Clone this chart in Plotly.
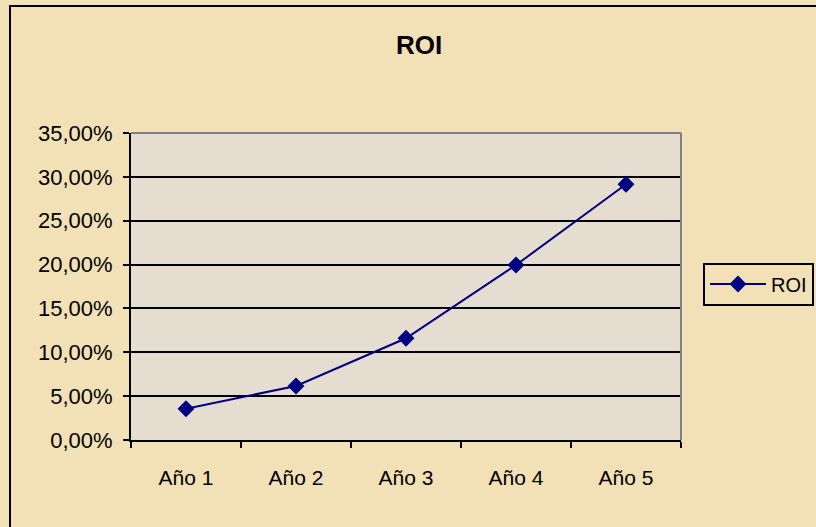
import plotly.graph_objects as go

categories = ["Año 1", "Año 2", "Año 3", "Año 4", "Año 5"]
roi_values = [0.0357, 0.0616, 0.1160, 0.1995, 0.2915]
series_name = "ROI"
y_ticks = [0.0, 0.05, 0.10, 0.15, 0.20, 0.25, 0.30, 0.35]

W, H = 816, 527
L, R, T, B = 131, 681, 133, 440
pw, ph = R - L, B - T

def px_x(x):
    return (x - L) / pw

def px_y(y):
    return (B - y) / ph

font = "Liberation Sans, Arial, sans-serif"

fig = go.Figure()
fig.add_trace(go.Scatter(
    x=categories, y=roi_values, name=series_name, mode="lines+markers",
    line=dict(color="#000080", width=2),
    marker=dict(symbol="diamond", size=13, color="#000080"),
    showlegend=True,
))

fig.update_layout(
    width=W, height=H,
    margin=dict(l=L, r=W - R, t=T, b=H - B, autoexpand=False),
    paper_bgcolor="#f2e0b6",
    plot_bgcolor="#e4ddd0",
    separators=",.",
    font=dict(family=font, size=21, color="black"),
    title=dict(text="<b>ROI</b>", x=419 / W, xref="container", xanchor="center",
               y=1 - 45 / H, yref="container", yanchor="middle",
               font=dict(family=font, size=26, color="black")),
    showlegend=True,
    legend=dict(x=px_x(703), xanchor="left", y=px_y(284), yanchor="middle",
                bgcolor="rgba(0,0,0,0)", bordercolor="black", borderwidth=2,
                font=dict(family=font, size=20, color="black"),
                itemwidth=56, tracegroupgap=0),
    xaxis=dict(
        type="category", tickson="boundaries", ticks="outside", ticklen=6,
        tickcolor="black", tickwidth=2, showline=True, linecolor="black", linewidth=2,
        showgrid=False, zeroline=False, range=[-0.5, 4.5], automargin=False,
        ticklabelstandoff=18,
        tickfont=dict(family=font, size=21, color="black"),
    ),
    yaxis=dict(
        range=[0, 0.35], tickvals=y_ticks, tickformat=".2%", ticks="outside",
        ticklen=6, tickcolor="black", tickwidth=2, showline=True, linecolor="black",
        linewidth=2, showgrid=True, gridcolor="black", gridwidth=1.5, zeroline=False,
        automargin=False, ticklabelstandoff=6,
        tickfont=dict(family=font, size=22, color="black"),
    ),
    shapes=[
        dict(type="line", xref="paper", yref="paper", x0=0, x1=1, y0=1, y1=1,
             line=dict(color="#808080", width=2), layer="above"),
        dict(type="line", xref="paper", yref="paper", x0=1, x1=1, y0=0, y1=1,
             line=dict(color="#808080", width=2), layer="above"),
        dict(type="rect", xref="paper", yref="paper",
             x0=px_x(10), x1=px_x(830), y0=px_y(540), y1=px_y(6),
             line=dict(color="black", width=2), fillcolor="rgba(0,0,0,0)", layer="above"),
    ],
)

fig.write_html("out.html", config={"displayModeBar": False},
               post_script="document.body.style.margin='0';document.body.style.overflow='hidden';")
